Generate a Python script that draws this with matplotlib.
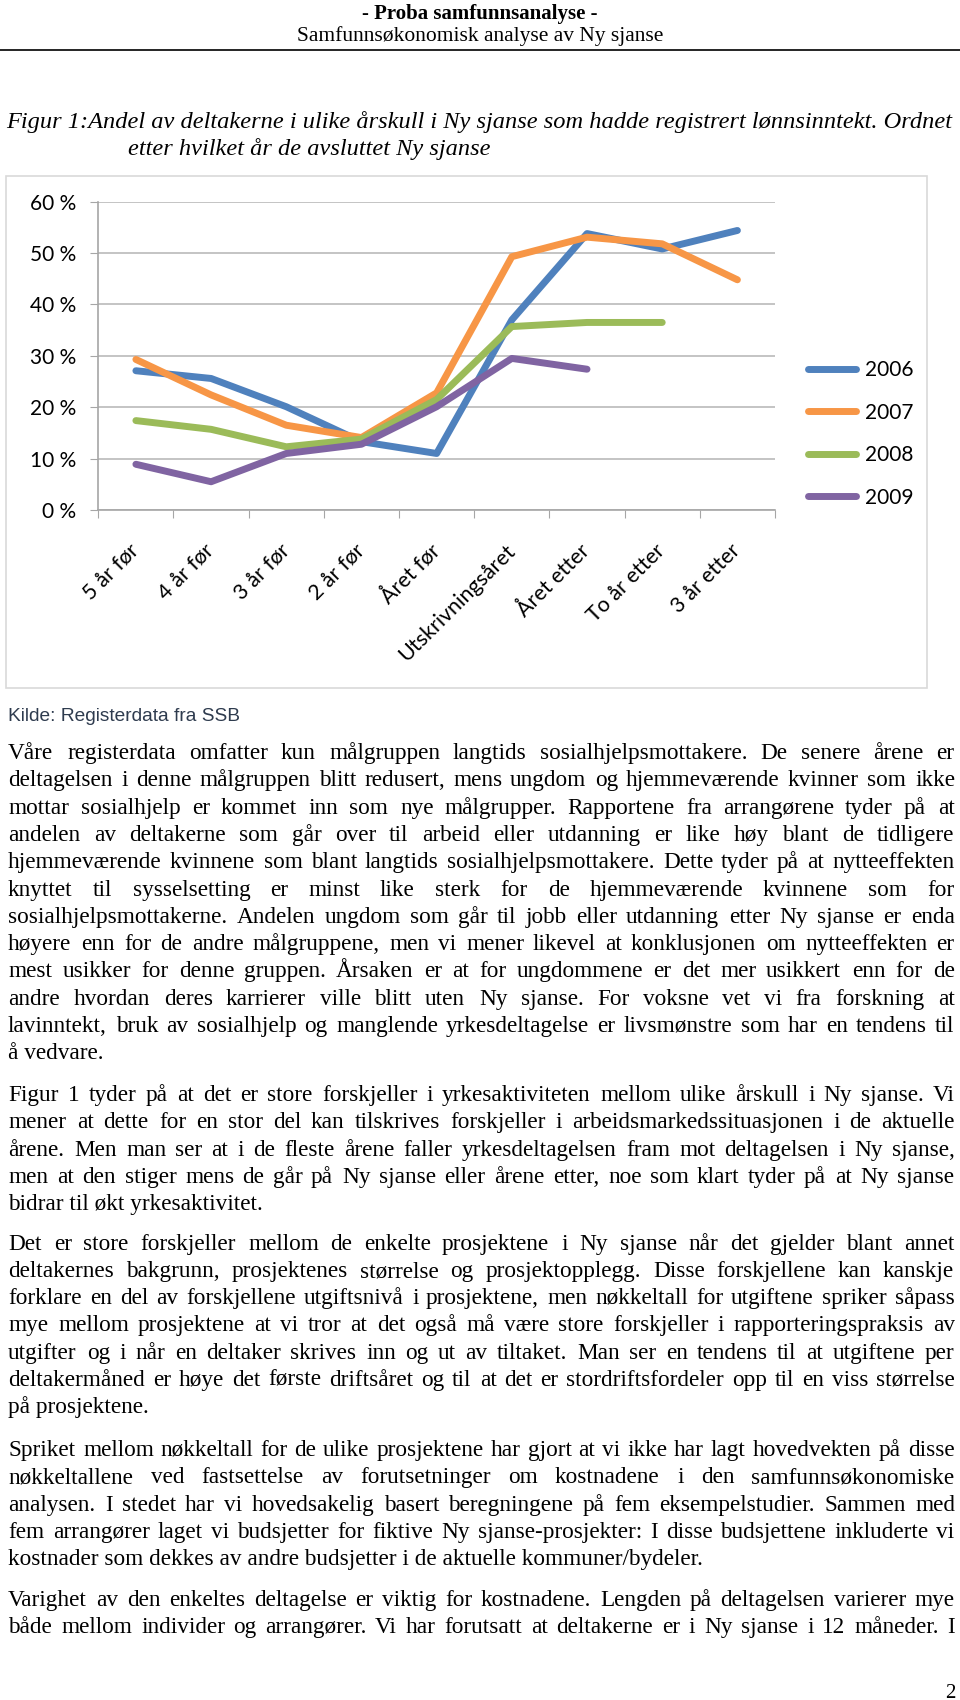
import matplotlib
matplotlib.use("Agg")
import matplotlib.pyplot as plt
from matplotlib.patches import Rectangle

# data (percent)
categories = ['5 år før', '4 år før', '3 år før', '2 år før', 'Året før',
              'Utskrivningsåret', 'Året etter', 'To år etter', '3 år etter']
s2006 = [27.1, 25.6, 20.1, 13.3, 11.0, 37.0, 53.8, 50.8, 54.4]
s2007 = [29.3, 22.4, 16.5, 14.1, 22.8, 49.3, 53.1, 51.8, 44.8]
s2008 = [17.4, 15.7, 12.3, 13.8, 21.5, 35.7, 36.5, 36.5]
s2009 = [8.9, 5.5, 11.0, 12.8, 20.1, 29.5, 27.4]
series_names = ['2006', '2007', '2008', '2009']
series_colors = ['#4F81BD', '#F79646', '#9BBB59', '#8064A2']
yticks = [0, 10, 20, 30, 40, 50, 60]

header = "- Proba samfunnsanalyse -"
subheader = "Samfunnsøkonomisk analyse av Ny sjanse"
caption1 = "Figur 1:Andel av deltakerne i ulike årskull i Ny sjanse som hadde registrert lønnsinntekt. Ordnet"
caption2 = "etter hvilket år de avsluttet Ny sjanse"
source = "Kilde: Registerdata fra SSB"

paragraphs = [
    ["Våre registerdata omfatter kun målgruppen langtids sosialhjelpsmottakere. De senere årene er",
     "deltagelsen i denne målgruppen blitt redusert, mens ungdom og hjemmeværende kvinner som ikke",
     "mottar sosialhjelp er kommet inn som nye målgrupper. Rapportene fra arrangørene tyder på at",
     "andelen av deltakerne som går over til arbeid eller utdanning er like høy blant de tidligere",
     "hjemmeværende kvinnene som blant langtids sosialhjelpsmottakere. Dette tyder på at nytteeffekten",
     "knyttet til sysselsetting er minst like sterk for de hjemmeværende kvinnene som for",
     "sosialhjelpsmottakerne. Andelen ungdom som går til jobb eller utdanning etter Ny sjanse er enda",
     "høyere enn for de andre målgruppene, men vi mener likevel at konklusjonen om nytteeffekten er",
     "mest usikker for denne gruppen. Årsaken er at for ungdommene er det mer usikkert enn for de",
     "andre hvordan deres karrierer ville blitt uten Ny sjanse. For voksne vet vi fra forskning at",
     "lavinntekt, bruk av sosialhjelp og manglende yrkesdeltagelse er livsmønstre som har en tendens til",
     "å vedvare."],
    ["Figur 1 tyder på at det er store forskjeller i yrkesaktiviteten mellom ulike årskull i Ny sjanse. Vi",
     "mener at dette for en stor del kan tilskrives forskjeller i arbeidsmarkedssituasjonen i de aktuelle",
     "årene. Men man ser at i de fleste årene faller yrkesdeltagelsen fram mot deltagelsen i Ny sjanse,",
     "men at den stiger mens de går på Ny sjanse eller årene etter, noe som klart tyder på at Ny sjanse",
     "bidrar til økt yrkesaktivitet."],
    ["Det er store forskjeller mellom de enkelte prosjektene i Ny sjanse når det gjelder blant annet",
     "deltakernes bakgrunn, prosjektenes størrelse og prosjektopplegg. Disse forskjellene kan kanskje",
     "forklare en del av forskjellene utgiftsnivå i prosjektene, men nøkkeltall for utgiftene spriker såpass",
     "mye mellom prosjektene at vi tror at det også må være store forskjeller i rapporteringspraksis av",
     "utgifter og i når en deltaker skrives inn og ut av tiltaket. Man ser en tendens til at utgiftene per",
     "deltakermåned er høye det første driftsåret og til at det er stordriftsfordeler opp til en viss størrelse",
     "på prosjektene."],
    ["Spriket mellom nøkkeltall for de ulike prosjektene har gjort at vi ikke har lagt hovedvekten på disse",
     "nøkkeltallene ved fastsettelse av forutsetninger om kostnadene i den samfunnsøkonomiske",
     "analysen. I stedet har vi hovedsakelig basert beregningene på fem eksempelstudier. Sammen med",
     "fem arrangører laget vi budsjetter for fiktive Ny sjanse-prosjekter: I disse budsjettene inkluderte vi",
     "kostnader som dekkes av andre budsjetter i de aktuelle kommuner/bydeler."],
    ["Varighet av den enkeltes deltagelse er viktig for kostnadene. Lengden på deltagelsen varierer mye",
     "både mellom individer og arrangører. Vi har forutsatt at deltakerne er i Ny sjanse i 12 måneder. I"],
]
# last line of a paragraph is left-aligned, except the page-break one
last_justified = [False, False, False, False, True]
para_top = [759, 1101, 1249.5, 1456, 1606]
line_step = 27.3
page_number = "2"

W, H = 960, 1700
fig = plt.figure(figsize=(W / 100, H / 100), dpi=100)
fig.patch.set_facecolor('white')

# page layer in pixel coordinates
page = fig.add_axes([0, 0, 1, 1])
page.set_xlim(0, W)
page.set_ylim(H, 0)
page.axis('off')
page.patch.set_visible(False)

serif = 'Liberation Serif'
page.text(480, 14, header, family=serif, fontsize=15, fontweight='bold', ha='center', va='center')
page.text(480, 36, subheader, family=serif, fontsize=15.5, ha='center', va='center')
page.plot([0, W], [50, 50], color='black', lw=1.2)
page.text(6, 128, caption1, family=serif, fontsize=17.6, style='italic', va='baseline')
page.text(128, 155, caption2, family=serif, fontsize=17.6, style='italic', va='baseline')
page.add_patch(Rectangle((6, 176), 920.7, 512.3, fill=False, edgecolor='#D9D9D9', lw=1.2))
page.text(8.5, 716, source, family='Liberation Sans', fontsize=13.8, color='#2E3B4E', va='center')
page.text(955, 1698, page_number, family=serif, fontsize=15, ha='right', va='baseline')

# body text, justified between x0 and x1
x0, x1 = 8.5, 954.5
renderer = fig.canvas.get_renderer()

# pick the font size so the tightest justified line just fits
fs = 15.0
widest = 0
for p, lines in enumerate(paragraphs):
    for k, line in enumerate(lines):
        if k == len(lines) - 1 and not last_justified[p]:
            continue
        t = page.text(0, 0, line, family=serif, fontsize=fs)
        widest = max(widest, t.get_window_extent(renderer).width)
        t.remove()
fs = fs * (x1 - x0) / widest * 0.985

for p, lines in enumerate(paragraphs):
    for k, line in enumerate(lines):
        y = round(para_top[p] + k * line_step)
        if k == len(lines) - 1 and not last_justified[p]:
            page.text(x0, y, line, family=serif, fontsize=fs, va='baseline')
            continue
        words = line.split()
        texts = [page.text(0, y, w, family=serif, fontsize=fs, va='baseline') for w in words]
        widths = [t.get_window_extent(renderer).width for t in texts]
        gap = (x1 - x0 - sum(widths)) / (len(words) - 1)
        x = x0
        for t, w in zip(texts, widths):
            t.set_x(round(x))
            x += w + gap

# the chart
ax = fig.add_axes([98.3 / W, 1 - 510 / H, 676.7 / W, 308.3 / H])
all_series = [s2006, s2007, s2008, s2009]
for name, vals, col in zip(series_names, all_series, series_colors):
    ax.plot(range(len(vals)), vals, color=col, lw=5, label=name,
            solid_capstyle='round', solid_joinstyle='round')

ax.set_xlim(-0.5, len(categories) - 0.5)
ax.set_ylim(0, 60)
ax.set_yticks(yticks)
ax.set_yticklabels([f"{v} %" for v in yticks], family='Lato', fontsize=15)
ax.yaxis.grid(True, color='#BFBFBF', lw=1.3)
ax.set_axisbelow(True)
ax.tick_params(axis='y', length=6, color='#A6A6A6', pad=10)

ax.set_xticks([i - 0.5 for i in range(len(categories) + 1)])
ax.set_xticklabels([])
ax.set_xticks(range(len(categories)), minor=True)
ax.set_xticklabels(categories, minor=True, rotation=45, ha='right', va='center',
                   rotation_mode='anchor', family='Lato', fontsize=15.5)
ax.tick_params(axis='x', which='major', length=6, color='#A6A6A6')
ax.tick_params(axis='x', which='minor', length=0, pad=27)

for s in ['top', 'right']:
    ax.spines[s].set_visible(False)
for s in ['left', 'bottom']:
    ax.spines[s].set_color('#A6A6A6')
    ax.spines[s].set_linewidth(1.2)

ax.legend(loc='center left', bbox_to_anchor=(808 / W, 1 - 434 / H), bbox_transform=fig.transFigure,
          frameon=False, borderpad=0, borderaxespad=0, handlelength=2.3, handletextpad=0.45,
          labelspacing=1.08, prop={'family': 'Lato', 'size': 15})

fig.savefig('out.png', dpi=100)
